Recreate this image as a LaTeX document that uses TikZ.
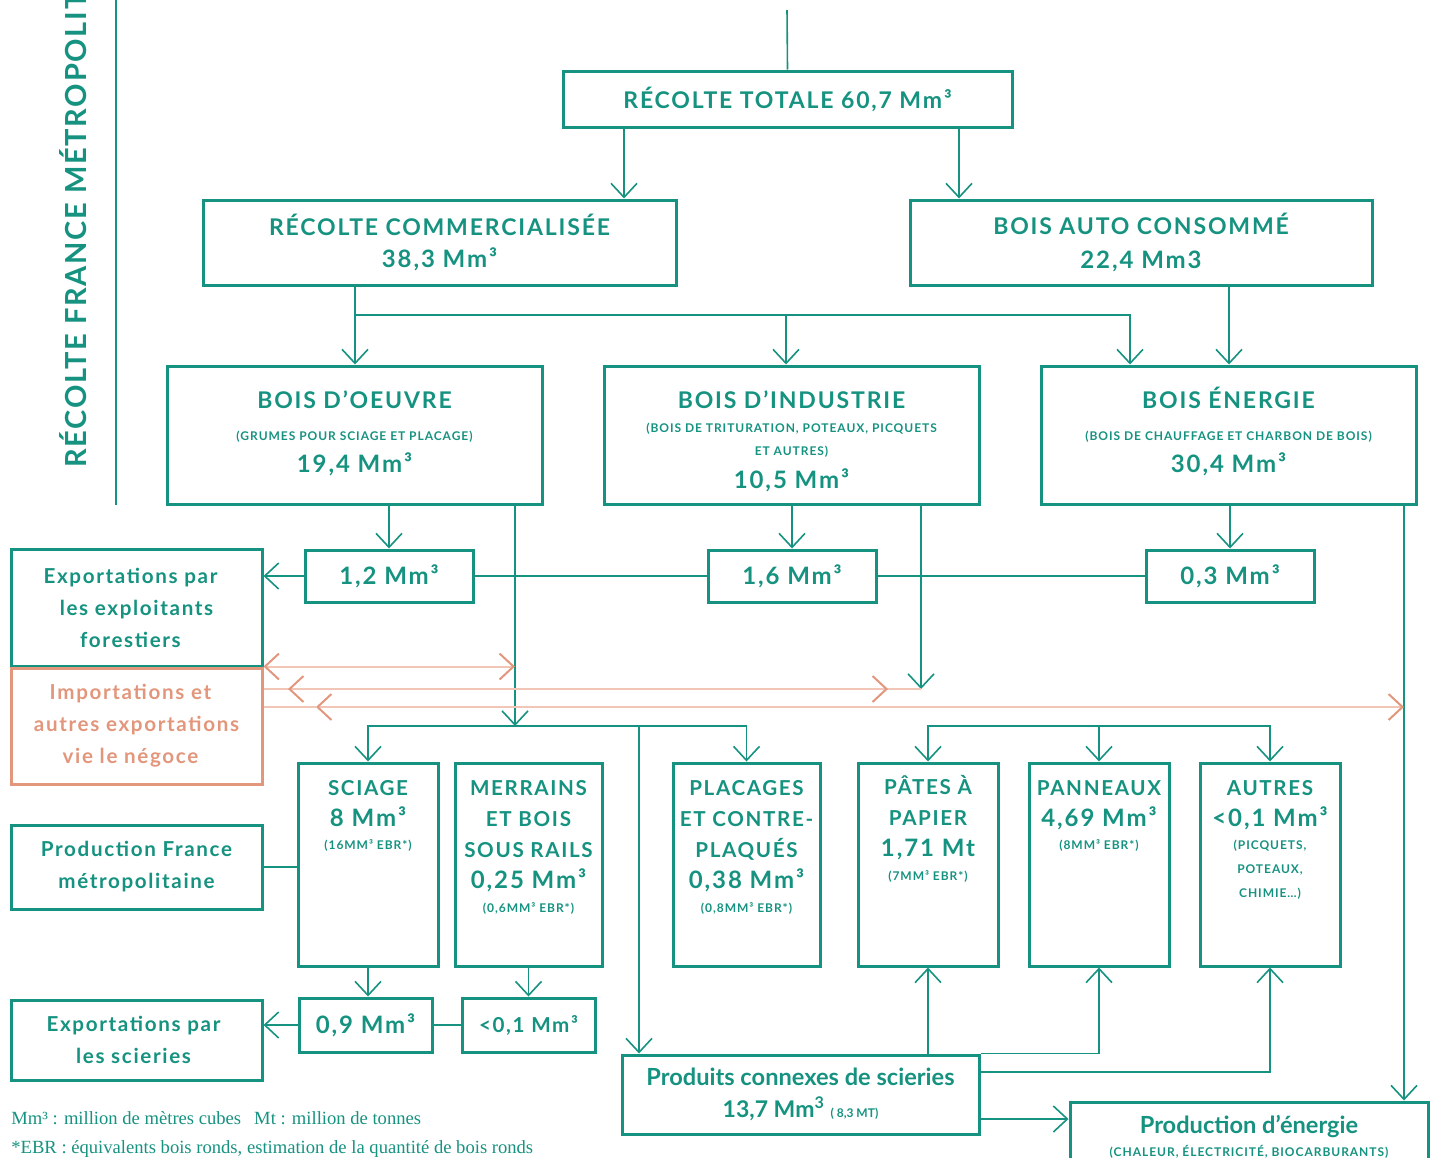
\documentclass[tikz,border=0pt]{standalone}
\usepackage{fontspec}
\usetikzlibrary{arrows.meta}
\newfontfamily\lato{Lato}
\newfontfamily\latoesp{Lato}[LetterSpace=8]
\newfontfamily\titrefont{Lato}[LetterSpace=6]
\newfontfamily\legende{Liberation Serif}
\definecolor{vert}{RGB}{22,146,128}
\definecolor{saumon}{RGB}{226,150,124}
\definecolor{saumonclair}{RGB}{241,198,182}
\newcommand\tete{\latoesp\bfseries\fontsize{10.3}{15.5}\selectfont}
\newcommand\teteb{\latoesp\bfseries\fontsize{11.5}{15.5}\selectfont}
\newcommand\texte{\latoesp\bfseries\fontsize{10.3}{16}\selectfont}
\newcommand\chiffre{\fontsize{12}{15.5}\selectfont}
\newcommand\petit{\fontsize{6}{12}\selectfont}
\begin{document}
\begin{tikzpicture}[x=0.5pt,y=-0.5pt,
    boite/.style={draw=vert,line width=1.5pt,text=vert,align=center,inner sep=0pt,font=\tete},
    haut/.style={anchor=north,yshift=-9.5pt,align=center,text=vert,inner sep=0pt,font=\tete},
    hautb/.style={haut,yshift=-1.5pt,font=\teteb},
    trait/.style={draw=vert,line width=0.8pt},
    fleche/.style={trait,-{Straight Barb[length=7pt,width=13pt]}},
    imp/.style={draw=saumonclair,line width=1pt},
    impfl/.style={imp,{Straight Barb[length=7pt,width=13pt,color=saumon]}-{Straight Barb[length=7pt,width=13pt,color=saumon]}}]
    \useasboundingbox (0,0) rectangle (1433,1157);
    \clip (0,0) rectangle (1433,1157);
    %% Titre
    \node[rotate=90,anchor=west,inner sep=0pt,text=vert,font=\titrefont\bfseries\fontsize{14.5}{18}\selectfont] (titre) at (73,468) {RÉCOLTE FRANCE MÉTROPOLITAINE};
    \draw[trait,line width=1pt] (116,0) -- (116,505);
    %% Recolte
    \node[boite,font=\teteb,minimum width=224.5pt,minimum height=28pt] (totale) at (787.5,99) {RÉCOLTE TOTALE 60,7 Mm³};
    \node[boite,font=\teteb,minimum width=236.5pt,minimum height=42.5pt] (commerc) at (439.5,242.5) {RÉCOLTE COMMERCIALISÉE\\[0.5pt]{\chiffre 38,3 Mm³}};
    \node[boite,font=\teteb,minimum width=231pt,minimum height=42.5pt] (auto) at (1141,242.5) {BOIS AUTO CONSOMMÉ\\[1.5pt]{\chiffre 22,4 Mm3}};
    %% Bois
    \node[boite,minimum width=187.5pt,minimum height=69pt,label={[hautb]north:{\vphantom{É}BOIS D’OEUVRE\\[0.5pt]{\petit (GRUMES POUR SCIAGE ET PLACAGE)}\\[0.5pt]{\chiffre 19,4 Mm³}}}] (oeuvre) at (354.5,435) {};
    \node[boite,minimum width=187.5pt,minimum height=69pt,label={[hautb]north:{\vphantom{É}BOIS D’INDUSTRIE\\[-3.5pt]{\petit (BOIS DE TRITURATION, POTEAUX, PICQUETS}\\[-4pt]{\petit ET AUTRES)}\\[1pt]{\chiffre 10,5 Mm³}}}] (industrie) at (791.5,435) {};
    \node[boite,minimum width=187.5pt,minimum height=69pt,label={[hautb]north:{\vphantom{É}BOIS ÉNERGIE\\[0.5pt]{\petit (BOIS DE CHAUFFAGE ET CHARBON DE BOIS)}\\[0.5pt]{\chiffre 30,4 Mm³}}}] (energie) at (1228.5,435) {};
    \node[boite,font=\tete\chiffre,minimum width=84pt,minimum height=26pt] (v12) at (389,576) {1,2 Mm³};
    \node[boite,font=\tete\chiffre,minimum width=84pt,minimum height=26pt] (v16) at (792,576) {1,6 Mm³};
    \node[boite,font=\tete\chiffre,minimum width=84pt,minimum height=26pt] (v03) at (1230,576) {0,3 Mm³};
    %% Exportations, importations
    \node[boite,font=\texte,minimum width=125.5pt,minimum height=58.5pt] (expf) at (136.5,607.5) {Exportations par\hspace*{6pt}\\les exploitants\hspace*{6pt}\\forestiers\hspace*{6pt}};
    \node[boite,font=\texte,draw=saumon,text=saumon,minimum width=125.5pt,minimum height=58pt] (importations) at (136.5,726) {Importations et\hspace*{6pt}\\autres exportations\hspace*{6pt}\\vie le négoce\hspace*{6pt}};
    \node[boite,font=\texte,minimum width=125.5pt,minimum height=42pt] (profr) at (136.5,867) {Production France\\métropolitaine};
    \node[boite,font=\texte,minimum width=125.5pt,minimum height=40pt] (exps) at (136.5,1040) {Exportations par\hspace*{3pt}\\les scieries\hspace*{3pt}};
    %% Produits
    \node[boite,minimum width=70pt,minimum height=101.5pt,label={[haut]north:{SCIAGE\\{\chiffre 8 Mm³}\\[-4pt]{\petit (16MM³ EBR*)}}}] (sciage) at (368,864.5) {};
    \node[boite,minimum width=73.5pt,minimum height=101.5pt,label={[haut]north:{MERRAINS\\ET BOIS\\SOUS RAILS\\{\chiffre 0,25 Mm³}\\[-3.5pt]{\petit (0,6MM³ EBR*)}}}] (merrains) at (528.5,864.5) {};
    \node[boite,minimum width=73.5pt,minimum height=101.5pt,label={[haut]north:{PLACAGES\\ET CONTRE-\\PLAQUÉS\\{\chiffre 0,38 Mm³}\\[-3.5pt]{\petit (0,8MM³ EBR*)}}}] (placages) at (746.5,864.5) {};
    \node[boite,minimum width=70pt,minimum height=101.5pt,label={[haut,yshift=3pt]north:{PÂTES À\\PAPIER\\{\chiffre 1,71 Mt}\\[-3.5pt]{\petit (7MM³ EBR*)}}}] (pates) at (928,864.5) {};
    \node[boite,minimum width=70pt,minimum height=101.5pt,label={[haut]north:{PANNEAUX\\{\chiffre 4,69 Mm³}\\[-4pt]{\petit (8MM³ EBR*)}}}] (panneaux) at (1099,864.5) {};
    \node[boite,minimum width=70pt,minimum height=101.5pt,label={[haut]north:{AUTRES\\{\chiffre <0,1 Mm³}\\[-4pt]{\petit (PICQUETS,}\\[-3.5pt]{\petit POTEAUX,}\\[-3.5pt]{\petit CHIMIE…)}}}] (autres) at (1270,864.5) {};
    \node[boite,font=\tete\chiffre,minimum width=66.5pt,minimum height=27pt] (v09) at (365.5,1025) {0,9 Mm³};
    \node[boite,font=\tete,minimum width=66.5pt,minimum height=27pt] (v01) at (528.5,1025) {<0,1 Mm³};
    \node[boite,font=\lato\bfseries\fontsize{11.8}{16}\selectfont,minimum width=178.5pt,minimum height=39.5pt] (connexes) at (800.5,1094.5) {Produits connexes de scieries\\{\fontsize{11.5}{16}\selectfont 13,7 Mm\textsuperscript{3}} {\fontsize{6}{6}\selectfont ( 8,3 MT)}};
    \node[boite,font=\lato\bfseries\fontsize{11.8}{11.5}\selectfont,minimum width=179pt,minimum height=35pt] (prodener) at (1249,1137) {Production d’énergie\\{\latoesp\petit (CHALEUR, ÉLECTRICITÉ, BIOCARBURANTS)}};
    %% Legende
    \node[anchor=north west,inner sep=0pt,align=left,text=vert,font=\legende\fontsize{9.3}{14.5}\selectfont] (leg) at (11,1111) {Mm³ : million de mètres cubes\hspace{0.7em}Mt : million de tonnes\\{}*EBR : équivalents bois ronds, estimation de la quantité de bois ronds};
    %% Liaisons haut
    \coordinate (entree) at (787,10);
    \draw[trait] (entree) -- (totale.north);
    \draw[fleche] (624,0 |- totale.south) -- (624,0 |- commerc.north);
    \draw[fleche] (959,0 |- totale.south) -- (959,0 |- auto.north);
    \draw[fleche] (355,0 |- commerc.south) -- (355,0 |- oeuvre.north);
    \coordinate (c1) at (355,315);
    \draw[fleche] (c1) -| (786,0 |- industrie.north);
    \draw[fleche] (c1) -| (1130,0 |- energie.north);
    \draw[fleche] (1229,0 |- auto.south) -- (1229,0 |- energie.north);
    %% Exportations bois
    \draw[fleche] (v12.north |- oeuvre.south) -- (v12.north);
    \draw[fleche] (v16.north |- industrie.south) -- (v16.north);
    \draw[fleche] (v03.north |- energie.south) -- (v03.north);
    \draw[trait] (v03.west) -- (v16.east);
    \draw[trait] (v16.west) -- (v12.east);
    \draw[fleche] (v12.west) -- (v12.west -| expf.east);
    %% Vers produits
    \coordinate (bo) at (515,726);
    \draw[fleche] (515,0 |- oeuvre.south) -- (bo);
    \draw[fleche] (bo) -| (sciage.north);
    \draw[fleche] (bo) -| (placages.north);
    \draw[fleche] (639,726) -- (639,0 |- connexes.north);
    \draw[fleche] (921,0 |- industrie.south) -- (921,689);
    \coordinate (pp) at (1099,726);
    \draw[fleche] (pp) -| (pates.north);
    \draw[fleche] (pp) -- (panneaux.north);
    \draw[fleche] (pp) -| (autres.north);
    \draw[fleche] (1404,0 |- energie.south) -- (1404,0 |- prodener.north);
    %% Importations
    \draw[impfl] (importations.north east) -- (bo |- importations.north east);
    \draw[imp] (importations.east |- 0,689) -- (921,689);
    \draw[impfl] (288,689) -- (888,689);
    \draw[imp] (importations.east |- 0,707) -- (316,707);
    \draw[impfl] (316,707) -- (1404,707);
    %% Scieries
    \draw[trait] (profr.east) -- (profr.east -| sciage.west);
    \draw[fleche] (sciage.south) -- (sciage.south |- v09.north);
    \draw[fleche] (merrains.south) -- (v01.north);
    \draw[trait] (v01.west) -- (v09.east);
    \draw[fleche] (v09.west) -- (v09.west -| exps.east);
    %% Produits connexes
    \draw[fleche] (pates.south |- connexes.north) -- (pates.south);
    \draw[fleche] (connexes.north east) -| (panneaux.south);
    \draw[fleche] (connexes.east |- 0,1072) -| (autres.south);
    \draw[fleche] (connexes.east |- 0,1119) -- (prodener.west |- 0,1119);
\end{tikzpicture}
\end{document}
